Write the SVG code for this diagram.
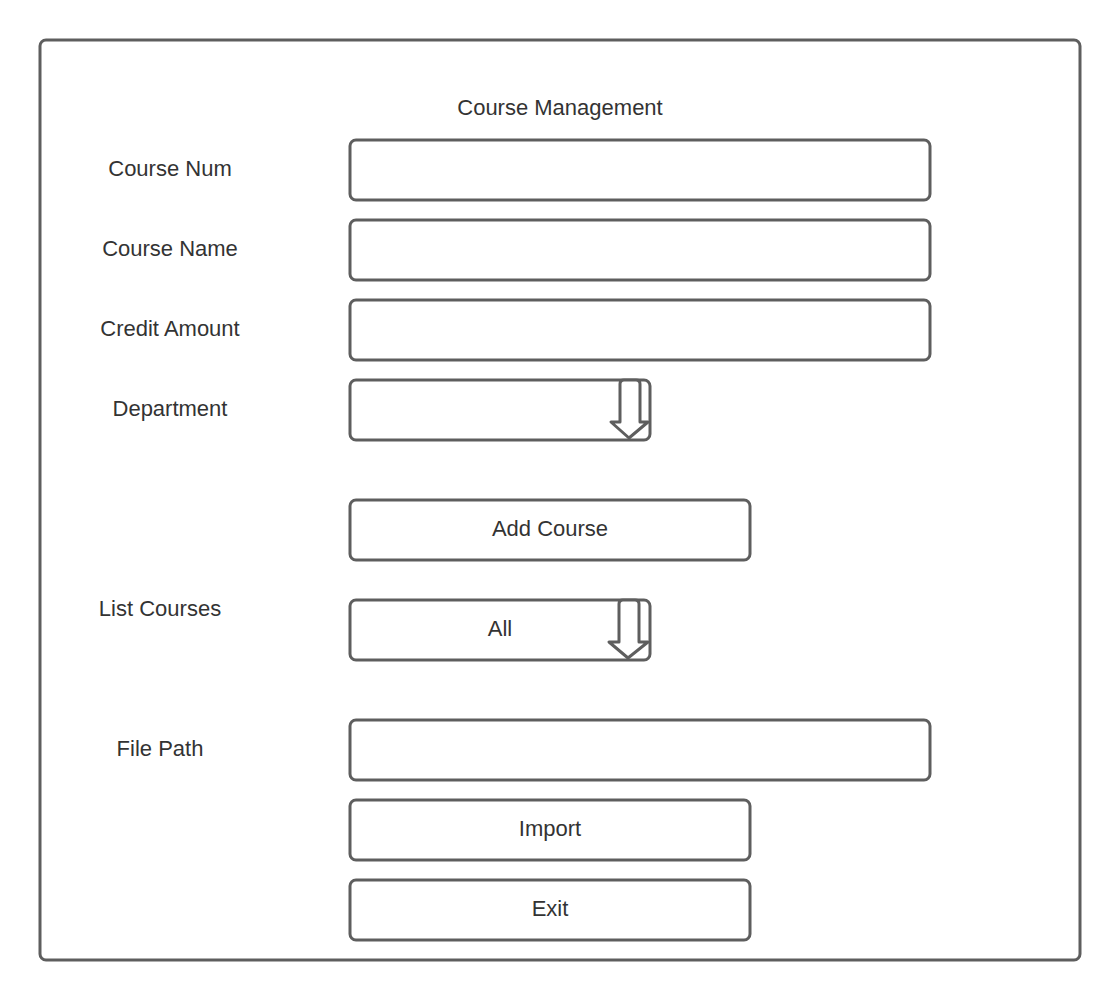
<svg xmlns="http://www.w3.org/2000/svg" width="1120" height="1000" viewBox="0 0 1120 1000">
<style>
.b{fill:#fff;stroke:#5e5e5e;stroke-width:3}
.t{font-family:"Liberation Sans",Arial,sans-serif;font-size:22px;fill:#333;text-anchor:middle;dominant-baseline:central}
</style>
<rect width="1120" height="1000" fill="#fff"/>
<g id="frame"><rect class="b" x="40" y="40" width="1040" height="920" rx="6"/></g>
<g id="title"><text class="t" x="560" y="107">Course Management</text></g>
<g id="course-num"><text class="t" x="170" y="168">Course Num</text><rect class="b" x="350" y="140" width="580" height="60" rx="6"/></g>
<g id="course-name"><text class="t" x="170" y="248">Course Name</text><rect class="b" x="350" y="220" width="580" height="60" rx="6"/></g>
<g id="credit-amount"><text class="t" x="170" y="328">Credit Amount</text><rect class="b" x="350" y="300" width="580" height="60" rx="6"/></g>
<g id="department"><text class="t" x="170" y="408">Department</text><rect class="b" x="350" y="380" width="300" height="60" rx="6"/>
<path class="b" d="M620,422 V384 Q620,380 624,380 H636 Q640,380 640,384 V422 H648 L629,438 L611,422 Z" stroke-linejoin="round"/></g>
<g id="add-course"><rect class="b" x="350" y="500" width="400" height="60" rx="6"/><text class="t" x="550" y="528">Add Course</text></g>
<g id="list-courses"><text class="t" x="160" y="608">List Courses</text><rect class="b" x="350" y="600" width="300" height="60" rx="6"/><text class="t" x="500" y="628">All</text>
<path class="b" d="M619,642 V604 Q619,600 623,600 H635 Q639,600 639,604 V642 H648 L628,658 L609,642 Z" stroke-linejoin="round"/></g>
<g id="file-path"><text class="t" x="160" y="748">File Path</text><rect class="b" x="350" y="720" width="580" height="60" rx="6"/></g>
<g id="import"><rect class="b" x="350" y="800" width="400" height="60" rx="6"/><text class="t" x="550" y="828">Import</text></g>
<g id="exit"><rect class="b" x="350" y="880" width="400" height="60" rx="6"/><text class="t" x="550" y="908">Exit</text></g>
<g id="connectors"></g>
</svg>
